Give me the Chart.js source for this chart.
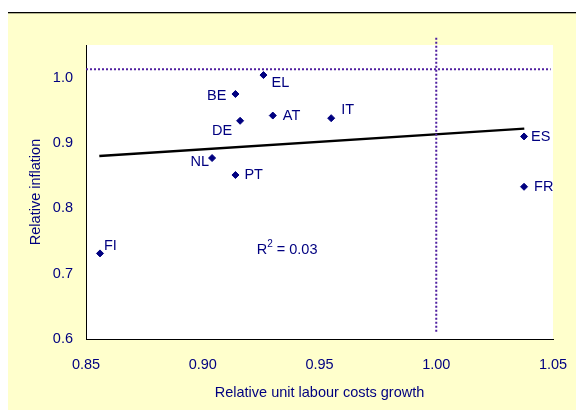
<!DOCTYPE html>
<html>
<head>
<meta charset="utf-8">
<script src="https://cdn.jsdelivr.net/npm/chart.js@4.4.1/dist/chart.umd.min.js"></script>
<style>
  html, body { margin: 0; padding: 0; background: #fff; }
  canvas { display: block; }
</style>
</head>
<body>
<canvas id="chart" width="576" height="410"></canvas>
<script>
// data
const countries = ['FI', 'EL', 'BE', 'DE', 'AT', 'NL', 'PT', 'IT', 'ES', 'FR'];
const ulcGrowth = [0.856, 0.926, 0.914, 0.916, 0.930, 0.904, 0.914, 0.955, 1.0376, 1.0376];
const inflation = [0.731, 1.004, 0.975, 0.934, 0.942, 0.877, 0.851, 0.938, 0.910, 0.833];

const trendX = [0.8557, 1.0377];
const trendY = [0.880, 0.922];

const refLineX = [1.00, 1.00];
const refLineXY = [0.611, 1.064];
const refLineY = [1.013, 1.013];
const refLineYX = [0.85, 1.049];

const xTicks = [0.85, 0.90, 0.95, 1.00, 1.05];
const yTicks = [0.6, 0.7, 0.8, 0.9, 1.0];

const r2Text = '0.03';
const r2Pos = [0.9231, 0.736];

// label placement next to each marker: [align, dx, dy]
const labelPos = {
  FI: ['left', 4, -7], EL: ['left', 8, 8], BE: ['right', -9, 2], DE: ['right', -8, 10],
  AT: ['left', 10, 0], NL: ['right', -3, 4], PT: ['left', 9, 0], IT: ['left', 10, -8],
  ES: ['left', 7, 1], FR: ['left', 10, 0]
};

const NAVY = '#000080';
const FONT = { family: 'Liberation Sans, Arial, sans-serif', size: 14.5 };

const background = {
  id: 'background',
  beforeDraw(chart) {
    const { ctx, chartArea: a } = chart;
    ctx.save();
    ctx.fillStyle = '#ffffff';
    ctx.fillRect(0, 0, chart.width, chart.height);
    ctx.fillStyle = '#FFFFCC';
    ctx.fillRect(8, 13, chart.width - 8, chart.height - 13);
    ctx.fillStyle = '#000000';
    ctx.fillRect(8, 12, chart.width - 8, 1.3);
    ctx.fillStyle = '#ffffff';
    ctx.fillRect(a.left, a.top, a.right - a.left, a.bottom - a.top);
    ctx.restore();
  }
};

const pointLabels = {
  id: 'pointLabels',
  afterDatasetsDraw(chart) {
    const { ctx, scales: { x, y } } = chart;
    const meta = chart.getDatasetMeta(3);
    ctx.save();
    ctx.font = FONT.size + 'px ' + FONT.family;
    ctx.fillStyle = NAVY;
    ctx.textBaseline = 'middle';
    meta.data.forEach((pt, i) => {
      const p = labelPos[countries[i]];
      ctx.textAlign = p[0];
      ctx.fillText(countries[i], pt.x + p[1], pt.y + p[2]);
    });
    // R squared
    const rx = x.getPixelForValue(r2Pos[0]);
    const ry = y.getPixelForValue(r2Pos[1]);
    ctx.textAlign = 'left';
    ctx.fillText('R', rx, ry);
    const rw = ctx.measureText('R').width;
    ctx.font = '10px ' + FONT.family;
    ctx.fillText('2', rx + rw, ry - 6);
    const sw = ctx.measureText('2').width;
    ctx.font = FONT.size + 'px ' + FONT.family;
    ctx.fillText(' = ' + r2Text, rx + rw + sw, ry);
    ctx.restore();
  }
};

const dotted = {
  borderColor: '#5020A0', borderWidth: 2, borderDash: [2, 2],
  pointRadius: 0, showLine: true, clip: false
};

new Chart(document.getElementById('chart'), {
  type: 'scatter',
  data: {
    datasets: [
      Object.assign({ data: refLineX.map((v, i) => ({ x: v, y: refLineXY[i] })) }, dotted),
      Object.assign({ data: refLineYX.map((v, i) => ({ x: v, y: refLineY[i] })) }, dotted),
      {
        data: trendX.map((v, i) => ({ x: v, y: trendY[i] })),
        borderColor: '#000000', borderWidth: 2.5, pointRadius: 0, showLine: true
      },
      {
        data: ulcGrowth.map((v, i) => ({ x: v, y: inflation[i] })),
        pointStyle: 'rectRot', pointRadius: 3.5,
        backgroundColor: NAVY, borderColor: NAVY, borderWidth: 1
      }
    ]
  },
  options: {
    responsive: false,
    animation: false,
    devicePixelRatio: 1,
    layout: { padding: { left: 8, top: 45, right: 23, bottom: 0 } },
    plugins: { legend: { display: false }, tooltip: { enabled: false } },
    scales: {
      x: {
        type: 'linear', min: 0.85, max: 1.05,
        afterFit(s) { s.height = 71; s.paddingLeft = 0; s.paddingRight = 0; },
        afterBuildTicks(s) { s.ticks = xTicks.map(v => ({ value: v })); },
        grid: { display: false, drawTicks: false },
        border: { display: true, color: '#000000', width: 1 },
        ticks: { color: NAVY, font: FONT, padding: 17, callback: v => v.toFixed(2) },
        title: {
          display: true, text: 'Relative unit labour costs growth',
          color: NAVY, font: FONT, padding: { top: 0, bottom: 8 }
        }
      },
      y: {
        type: 'linear', min: 0.6, max: 1.05,
        afterFit(s) { s.width = 78; },
        afterBuildTicks(s) { s.ticks = yTicks.map(v => ({ value: v })); },
        grid: { display: false, drawTicks: false },
        border: { display: true, color: '#000000', width: 1 },
        ticks: { color: NAVY, font: FONT, padding: 13, callback: v => v.toFixed(1) },
        title: {
          display: true, text: 'Relative inflation',
          color: NAVY, font: FONT, padding: { top: 19, bottom: 0 }
        }
      }
    }
  },
  plugins: [background, pointLabels]
});
</script>
</body>
</html>
